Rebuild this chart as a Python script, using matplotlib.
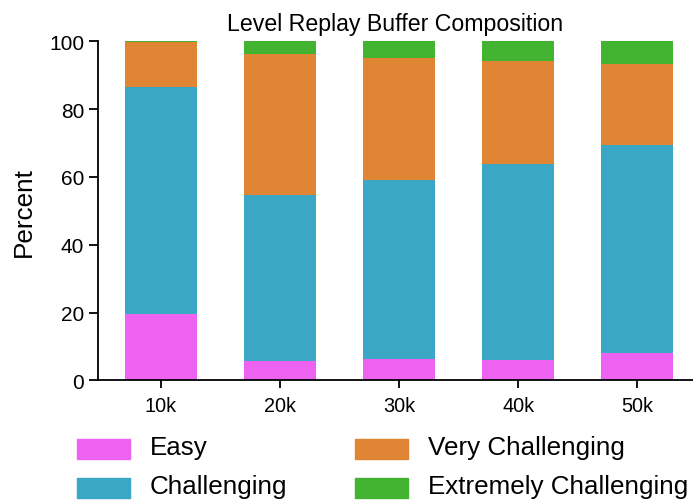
import numpy as np
import matplotlib
matplotlib.use('Agg')
import matplotlib.pyplot as plt
import matplotlib.patches as mpatches
from matplotlib.legend_handler import HandlerPatch

plt.rcParams['font.family'] = ['Liberation Sans', 'DejaVu Sans']

# checkpoints and buffer composition (percent)
steps = ['10k', '20k', '30k', '40k', '50k']
easy = [19.6, 5.8, 6.3, 6.0, 8.1]
challenging = [67.0, 48.9, 52.8, 57.8, 61.4]
very_challenging = [13.2, 41.6, 36.0, 30.4, 23.8]
extremely_challenging = [0.2, 3.7, 4.9, 5.8, 6.7]

labels = ['Easy', 'Challenging', 'Very Challenging', 'Extremely Challenging']
colors = ['#EE62F2', '#3AA8C4', '#E08533', '#43B432']

fig = plt.figure(figsize=(6.93, 5.02), dpi=100)
ax = fig.add_axes([0.1414, 0.2404, 0.8586, 0.6753])

x = np.arange(len(steps))
bottom = np.zeros(len(steps))
for vals, lab, col in zip([easy, challenging, very_challenging, extremely_challenging], labels, colors):
    ax.bar(x, vals, width=0.61, bottom=bottom, color=col, label=lab)
    bottom += np.array(vals)

ax.set_xlim(-0.53, 4.47)
ax.set_ylim(0, 100)
ax.set_xticks(x)
ax.set_xticklabels(steps, fontsize=14.3)
ax.set_yticks([0, 20, 40, 60, 80, 100])
ax.tick_params(axis='y', labelsize=15, length=6.5, width=1.3)
ax.tick_params(axis='x', length=6, width=1.3, pad=5)
for s in ['top', 'right']:
    ax.spines[s].set_visible(False)
for s in ['left', 'bottom']:
    ax.spines[s].set_linewidth(1.3)
ax.set_ylabel('Percent', fontsize=18.8)
ax.yaxis.set_label_coords(-0.105, 0.5)
ax.set_title('Level Replay Buffer Composition', fontsize=16.7, pad=8)


# legend boxes sit a bit lower than the text in the original
def low_rect(legend, orig_handle, xdescent, ydescent, width, height, fontsize):
    return mpatches.Rectangle((-xdescent, -ydescent - 2.9), width, height)


proxies = [mpatches.Patch(color=c) for c in colors]
fig.legend(handles=proxies, labels=labels, loc='upper left', bbox_to_anchor=(0.111, 0.132),
           ncol=2, frameon=False, fontsize=18.7, handlelength=2.04, handleheight=0.82,
           handletextpad=0.77, columnspacing=2.6, labelspacing=0.58, borderpad=0,
           borderaxespad=0, handler_map={mpatches.Patch: HandlerPatch(patch_func=low_rect)})

fig.savefig('out.png', dpi=100)
